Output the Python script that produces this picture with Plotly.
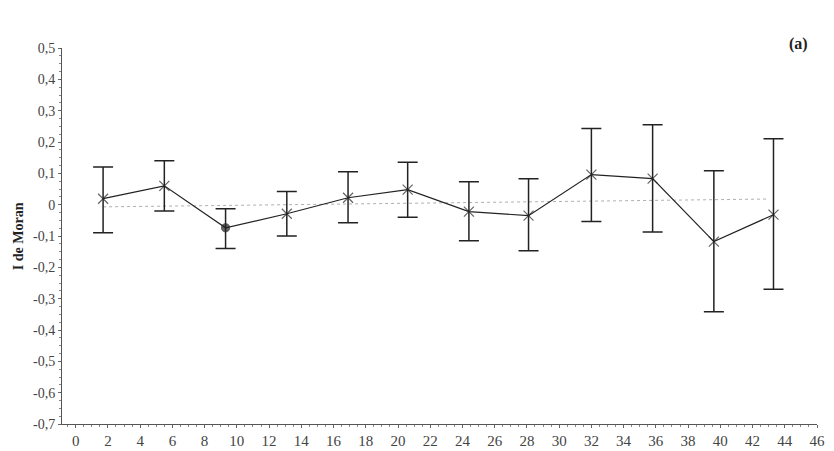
import plotly.graph_objects as go

# Distance classes (x) and Moran's I values with confidence bounds
distance = [1.7, 5.5, 9.3, 13.1, 16.9, 20.6, 24.4, 28.1, 32.0, 35.8, 39.6, 43.3]
moran_i = [0.019, 0.060, -0.074, -0.029, 0.022, 0.048, -0.022, -0.035, 0.096, 0.083, -0.118, -0.032]
upper = [0.120, 0.140, -0.013, 0.042, 0.105, 0.135, 0.073, 0.083, 0.243, 0.255, 0.108, 0.210]
lower = [-0.090, -0.020, -0.140, -0.100, -0.058, -0.040, -0.115, -0.147, -0.054, -0.087, -0.342, -0.270]

# Expected-value reference line (dotted)
ref_x = [1.7, 43.0]
ref_y = [-0.007, 0.018]

x_ticks = list(range(0, 47, 2))
y_ticks = [0.5, 0.4, 0.3, 0.2, 0.1, 0, -0.1, -0.2, -0.3, -0.4, -0.5, -0.6, -0.7]
y_tick_labels = ["0,5", "0,4", "0,3", "0,2", "0,1", "0", "-0,1", "-0,2", "-0,3",
                 "-0,4", "-0,5", "-0,6", "-0,7"]

err_plus = [u - m for u, m in zip(upper, moran_i)]
err_minus = [m - l for m, l in zip(moran_i, lower)]

symbols = ["x-thin-open"] * len(distance)
sizes = [10] * len(distance)
symbols[2] = "circle"
sizes[2] = 8

FONT = "Liberation Serif"

fig = go.Figure()
fig.add_trace(go.Scatter(
    x=ref_x, y=ref_y, mode="lines",
    line=dict(color="#b0b0b0", width=1, dash="dot"),
    hoverinfo="skip", showlegend=False,
))
fig.add_trace(go.Scatter(
    x=distance, y=moran_i, mode="lines+markers",
    line=dict(color="#222222", width=1.2),
    marker=dict(symbol=symbols, size=sizes, color="#222222",
                line=dict(color="#222222", width=1.2)),
    error_y=dict(type="data", symmetric=False, array=err_plus, arrayminus=err_minus,
                 color="#222222", thickness=1.5, width=10),
    showlegend=False,
))

fig.update_layout(
    width=834, height=451,
    margin=dict(l=62, r=17, t=48, b=27),
    paper_bgcolor="white", plot_bgcolor="white",
    font=dict(family=FONT, size=13, color="#444444"),
    showlegend=False,
)
fig.update_xaxes(
    range=[-0.85, 46], tickvals=x_ticks, ticktext=[str(v) for v in x_ticks],
    showgrid=False, zeroline=False, showline=True, linecolor="#555555", linewidth=1,
    ticks="outside", ticklen=3, tickcolor="#666666",
    minor=dict(ticks="outside", ticklen=2, dtick=0.5, tickcolor="#888888"),
    tickfont=dict(family=FONT, size=15, color="#444444"),
    automargin=False,
)
fig.update_yaxes(
    range=[-0.7, 0.5], tickvals=y_ticks, ticktext=y_tick_labels,
    showgrid=False, zeroline=False, showline=True, linecolor="#555555", linewidth=1,
    ticks="outside", ticklen=3, tickcolor="#666666",
    minor=dict(ticks="outside", ticklen=2, dtick=0.025, tickcolor="#888888"),
    tickfont=dict(family=FONT, size=14, color="#444444"),
    automargin=False,
)
fig.add_annotation(
    text="<b>I de Moran</b>", xref="paper", yref="paper", x=-0.058, y=0.5,
    xanchor="center", yanchor="middle", textangle=-90, showarrow=False,
    font=dict(family=FONT, size=14, color="#222222"),
)
fig.add_annotation(
    text="<b>(a)</b>", xref="paper", yref="paper", x=0.975, y=1.01,
    xanchor="center", yanchor="middle", showarrow=False,
    font=dict(family=FONT, size=16, color="#222222"),
)

fig.write_html("out.html", config={"displayModeBar": False},
               post_script="document.body.style.margin='0';")
